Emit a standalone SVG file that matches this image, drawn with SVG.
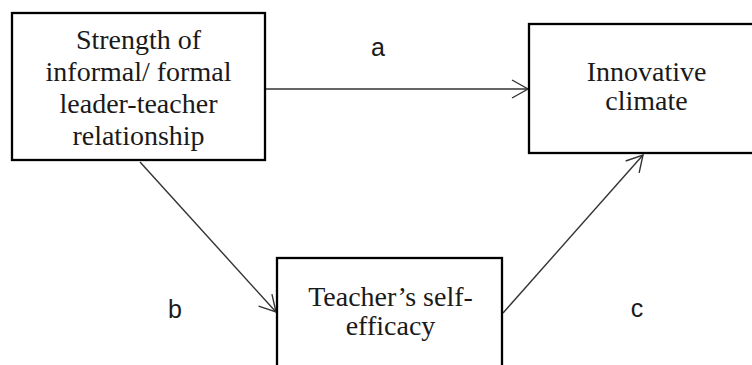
<svg xmlns="http://www.w3.org/2000/svg" width="752" height="365" viewBox="0 0 752 365">
  <style>
    .box { fill: #ffffff; stroke: #000000; stroke-width: 2.3; }
    .node-text { font-family: "Liberation Serif", "Times New Roman", serif; font-size: 28px; fill: #1a1a1a; text-anchor: middle; }
    .path-label { font-family: "Liberation Sans", Arial, sans-serif; font-size: 25px; fill: #1a1a1a; text-anchor: middle; }
    .link { fill: none; stroke: #333333; stroke-width: 1.4; marker-end: url(#open-arrow); }
  </style>
  <defs>
    <marker id="open-arrow" viewBox="0 0 20 20" refX="18" refY="10" markerWidth="20" markerHeight="20" markerUnits="userSpaceOnUse" orient="auto">
      <path d="M2,1 L18,10 L2,19" fill="none" stroke="#333333" stroke-width="1.4"/>
    </marker>
  </defs>
  <rect width="752" height="365" fill="#ffffff"/>

  <!-- connectors -->
  <g id="connectors">
    <line class="link" x1="266" y1="89" x2="528" y2="89"/>
    <line class="link" x1="140" y1="162" x2="276" y2="312"/>
    <line class="link" x1="503" y1="313" x2="643" y2="155"/>
    <text class="path-label" x="378" y="56">a</text>
    <text class="path-label" x="175" y="318">b</text>
    <text class="path-label" x="637" y="317">c</text>
  </g>

  <!-- predictor -->
  <g id="node-relationship">
    <rect class="box" x="12" y="13" width="253" height="147"/>
    <text class="node-text" x="138.5" y="49">Strength of</text>
    <text class="node-text" x="138.5" y="81">informal/ formal</text>
    <text class="node-text" x="138.5" y="113">leader-teacher</text>
    <text class="node-text" x="138.5" y="145">relationship</text>
  </g>

  <!-- outcome (runs past the right edge) -->
  <g id="node-climate">
    <rect class="box" x="529" y="24" width="234" height="129"/>
    <text class="node-text" x="646.5" y="81">Innovative</text>
    <text class="node-text" x="646.5" y="110">climate</text>
  </g>

  <!-- mediator (runs past the bottom edge) -->
  <g id="node-efficacy">
    <rect class="box" x="277" y="258" width="225" height="120"/>
    <text class="node-text" x="390.5" y="306">Teacher’s self-</text>
    <text class="node-text" x="390.5" y="335">efficacy</text>
  </g>
</svg>
